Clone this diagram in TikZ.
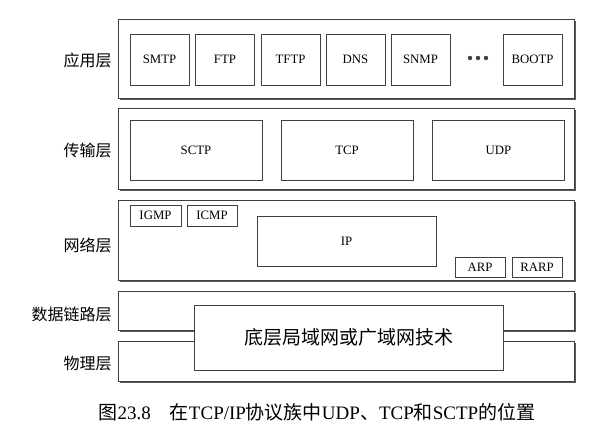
\documentclass[tikz,border=0pt]{standalone}
\usepackage{fontspec}
\setmainfont{Liberation Serif}
\newfontfamily\cjk{Noto Sans CJK SC}
\usetikzlibrary{shadows}

\begin{document}
\begin{tikzpicture}[x=0.5pt, y=-0.5pt,
  layer/.style={draw=black!75, fill=white, line width=0.5pt, minimum width=228pt,
    drop shadow={shadow xshift=1.1pt, shadow yshift=-1.1pt, fill=black!65, opacity=1}},
  proto/.style={draw=black!75, fill=white, line width=0.45pt, inner sep=0pt,
    font=\fontsize{6.4}{7.5}\selectfont},
  layername/.style={anchor=east, inner sep=0pt, font=\cjk\fontsize{8}{9.5}\selectfont}]

  \useasboundingbox (0,0) rectangle (611,436);

  % The five layers, top to bottom, each with a dark shadow on its lower right.
  \node[layer, minimum height=39.5pt] (app) at (346,58.5) {};
  \node[layer, minimum height=40.5pt] (transport) at (346,148.5) {};
  \node[layer, minimum height=40pt] (network) at (346,240) {};
  \node[layer, minimum height=19.5pt] (datalink) at (346,310.5) {};
  \node[layer, minimum height=20pt] (physical) at (346,361) {};

  \node[layername] (lblapp) at (112,60) {应用层};
  \node[layername] (lbltransport) at (112,150) {传输层};
  \node[layername] (lblnetwork) at (112,245) {网络层};
  \node[layername] (lbldatalink) at (112,314) {数据链路层};
  \node[layername] (lblphysical) at (112,363) {物理层};

  % Application protocols, with the dots standing for the ones left out.
  \foreach \name/\x in {SMTP/159.5, FTP/225, TFTP/290.5, DNS/355.5, SNMP/420.5, BOOTP/532.5}
    \node[proto, minimum width=29.5pt, minimum height=25.5pt] (\name) at (\x,59.5) {\name};
  \foreach \x in {470,478,486}
    \fill[black!75] (\x,58) circle (1.1pt);

  % Transport protocols.
  \foreach \name/\x in {SCTP/196, TCP/347, UDP/498.5}
    \node[proto, minimum width=66pt, minimum height=30pt] (\name) at (\x,150) {\name};

  % Network layer: IP with its helper protocols.
  \node[proto, minimum width=25.5pt, minimum height=10.5pt] (IGMP) at (155.5,215.5) {IGMP};
  \node[proto, minimum width=25pt, minimum height=10.5pt] (ICMP) at (212,215.5) {ICMP};
  \node[proto, minimum width=89.5pt, minimum height=25pt] (IP) at (346.5,241) {IP};
  \node[proto, minimum width=25pt, minimum height=10pt] (ARP) at (480,267) {ARP};
  \node[proto, minimum width=25pt, minimum height=10pt] (RARP) at (537,267) {RARP};

  % The underlying technology spans both the data link and physical layers.
  \node[proto, minimum width=154.5pt, minimum height=32.5pt,
    font=\cjk\fontsize{9.5}{11}\selectfont] (base) at (348.5,337.5) {底层局域网或广域网技术};

  \node[font=\fontsize{9.5}{11}\selectfont] (caption) at (317,412)
    {{\cjk 图}23.8\quad{\cjk 在}TCP/IP{\cjk 协议族中}UDP{\cjk 、}TCP{\cjk 和}SCTP{\cjk 的位置}};

\end{tikzpicture}
\end{document}
